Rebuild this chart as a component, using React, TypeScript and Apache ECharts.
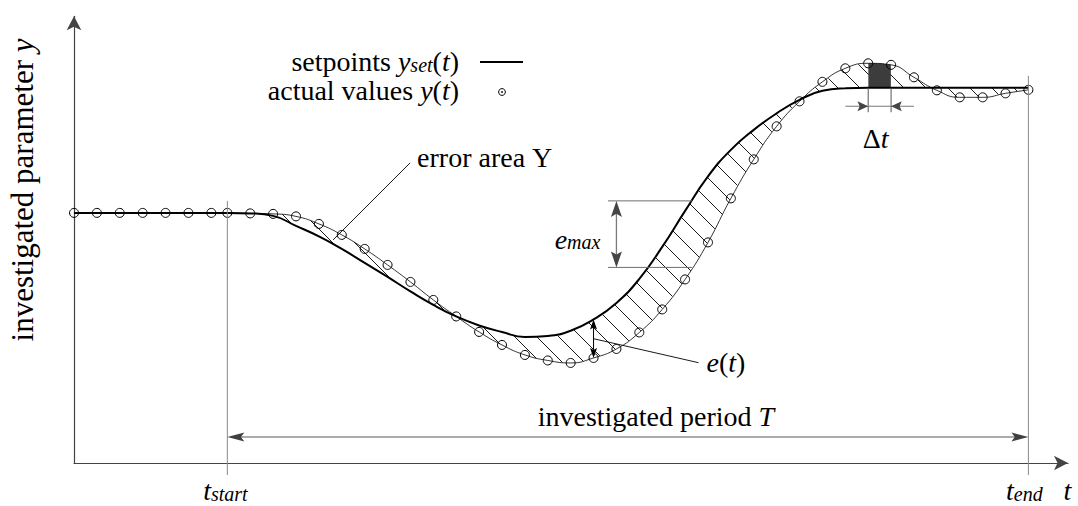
import React, { useEffect, useRef } from 'react';
import * as echarts from 'echarts';

// Sample times: seven samples before t_start, then one sample per time unit from t_start (0) to t_end (35)
const TIME = [
  -6.7, -5.7, -4.7, -3.7, -2.7, -1.7, -0.7,
  0, 1, 2, 3, 4, 5, 6, 7, 8, 9, 10, 11, 12, 13, 14, 15, 16, 17,
  18, 19, 20, 21, 22, 23, 24, 25, 26, 27, 28, 29, 30, 31, 32, 33, 34, 35,
];

// Setpoint trajectory y_set(t)
const SETPOINT = [
  5.0, 5.0, 5.0, 5.0, 5.0, 5.0, 5.0,
  5.0, 4.99, 4.94, 4.74, 4.53, 4.28, 4.0, 3.72, 3.43, 3.16, 2.93, 2.75, 2.62, 2.52, 2.54, 2.645, 2.87, 3.2,
  3.68, 4.32, 5.04, 5.73, 6.26, 6.66, 6.99, 7.26, 7.44, 7.49, 7.5, 7.5, 7.5, 7.5, 7.5, 7.5, 7.5, 7.5,
];

// Measured values y(t)
const ACTUAL = [
  5.0, 5.0, 5.0, 5.0, 5.0, 5.0, 5.0,
  5.0, 4.99, 4.98, 4.93, 4.78, 4.56, 4.28, 3.96, 3.62, 3.26, 2.93, 2.62, 2.36, 2.16, 2.05, 2.0, 2.1, 2.28,
  2.61, 3.07, 3.67, 4.41, 5.29, 6.07, 6.73, 7.23, 7.62, 7.89, 7.99, 7.96, 7.71, 7.45, 7.31, 7.31, 7.39, 7.46,
];

// Axis ranges
const X_MIN = -6.7;
const X_MAX = 36.73;
const Y_MAX = 8.93;

// Annotated instants and levels
const T_START = 0;
const T_END = 35;
const E_T = 16; // sample at which e(t) is marked
const EMAX_T = 20.3;
const EMAX_UPPER = 5.24;
const EMAX_LOWER = 3.91;
const EMAX_ARROW_T = 17;
const EMAX_LINE_FROM_T = 16.63;
const DT_FROM = 28;
const DT_TO = 29;
const PERIOD_LEVEL = 0.52;
const ERROR_AREA_POINT = [4.62, 4.46];

// Style
const SMOOTH = 0.5;
const HATCH_GAP = 22;
const HATCH_PHASE = 2;
const SERIF = 'Liberation Serif';
const TEXT = '#404040';
const MATH = '#22229a';
const AXIS = '#444444';
const FS = 28;
const FS_SUB = 20;
const FS_TITLE = 31;

function richStyles(size: number) {
  return {
    n: { fontFamily: SERIF, fontSize: size, color: TEXT, lineHeight: 26 },
    m: { fontFamily: SERIF, fontSize: size, fontStyle: 'italic', color: MATH, lineHeight: 26 },
    u: { fontFamily: SERIF, fontSize: size, color: MATH, lineHeight: 26 },
    s: {
      fontFamily: SERIF, fontSize: FS_SUB, fontStyle: 'italic', color: MATH,
      lineHeight: 12, verticalAlign: 'bottom',
    },
  };
}
const RICH = richStyles(FS);
const RICH_TITLE = richStyles(FS_TITLE);

// Same smoothing scheme as the line series, evaluated in pixel space
function smoothPoints(pts: number[][], smooth: number, steps = 16): number[][] {
  const out: number[][] = [pts[0].slice()];
  let cpx0 = pts[0][0];
  let cpy0 = pts[0][1];
  for (let i = 1; i < pts.length; i++) {
    const [x, y] = pts[i];
    const [prevX, prevY] = pts[i - 1];
    let cpx1 = x, cpy1 = y, nextCpx0 = x, nextCpy0 = y;
    if (i < pts.length - 1 && smooth > 0) {
      const [nextX, nextY] = pts[i + 1];
      let vx = nextX - prevX;
      let vy = nextY - prevY;
      const lenPrev = Math.hypot(x - prevX, y - prevY);
      const lenNext = Math.hypot(nextX - x, nextY - y);
      const ratio = lenNext / (lenNext + lenPrev);
      nextCpx0 = x + vx * smooth * ratio;
      nextCpy0 = y + vy * smooth * ratio;
      nextCpx0 = Math.max(Math.min(nextCpx0, Math.max(nextX, x)), Math.min(nextX, x));
      nextCpy0 = Math.max(Math.min(nextCpy0, Math.max(nextY, y)), Math.min(nextY, y));
      vx = nextCpx0 - x;
      vy = nextCpy0 - y;
      cpx1 = x - (vx * lenPrev) / lenNext;
      cpy1 = y - (vy * lenPrev) / lenNext;
      cpx1 = Math.max(Math.min(cpx1, Math.max(prevX, x)), Math.min(prevX, x));
      cpy1 = Math.max(Math.min(cpy1, Math.max(prevY, y)), Math.min(prevY, y));
      vx = x - cpx1;
      vy = y - cpy1;
      nextCpx0 = x + (vx * lenNext) / lenPrev;
      nextCpy0 = y + (vy * lenNext) / lenPrev;
    }
    for (let s = 1; s <= steps; s++) {
      const u = s / steps;
      const w = 1 - u;
      out.push([
        w * w * w * prevX + 3 * w * w * u * cpx0 + 3 * w * u * u * cpx1 + u * u * u * x,
        w * w * w * prevY + 3 * w * w * u * cpy0 + 3 * w * u * u * cpy1 + u * u * u * y,
      ]);
    }
    cpx0 = nextCpx0;
    cpy0 = nextCpy0;
  }
  return out;
}

// Reads y at increasing x along a polyline that is monotone in x
function sampler(poly: number[][]) {
  let j = 0;
  return (px: number) => {
    while (j < poly.length - 2 && poly[j + 1][0] < px) j++;
    const a = poly[j];
    const b = poly[j + 1];
    const d = b[0] - a[0] || 1;
    const u = Math.min(1, Math.max(0, (px - a[0]) / d));
    return a[1] + (b[1] - a[1]) * u;
  };
}

function renderErrorArea(params: any, api: any) {
  if (params.dataIndex !== 0) return null;
  const setPts = TIME.map((t, i) => api.coord([t, SETPOINT[i]]));
  const actPts = TIME.map((t, i) => api.coord([t, ACTUAL[i]]));
  const setPoly = smoothPoints(setPts, SMOOTH);
  const actPoly = smoothPoints(actPts, SMOOTH);
  const startIdx = TIME.indexOf(T_START);
  const xStart = setPts[startIdx][0];
  const xEnd = setPts[setPts.length - 1][0];

  const xs: number[] = [];
  const ys: number[] = [];
  const ya: number[] = [];
  const fs = sampler(setPoly);
  const fa = sampler(actPoly);
  let minPy = Infinity;
  let maxPy = -Infinity;
  for (let px = xStart; px <= xEnd; px += 0.5) {
    xs.push(px);
    const a = fs(px);
    const b = fa(px);
    ys.push(a);
    ya.push(b);
    minPy = Math.min(minPy, a, b);
    maxPy = Math.max(maxPy, a, b);
  }

  // Diagonal hatching between the two curves
  const children: any[] = [];
  const cStart = HATCH_PHASE + HATCH_GAP * Math.floor((xStart - maxPy - HATCH_PHASE) / HATCH_GAP);
  const cEnd = xEnd - minPy;
  for (let c = cStart; c <= cEnd; c += HATCH_GAP) {
    let from = -1;
    for (let i = 0; i < xs.length; i++) {
      const py = xs[i] - c;
      const inside = (py - ys[i]) * (py - ya[i]) < 0;
      if (inside && from < 0) from = i;
      if ((!inside || i === xs.length - 1) && from >= 0) {
        const to = inside ? i : i - 1;
        if (to > from) {
          children.push({
            type: 'line',
            shape: { x1: xs[from], y1: xs[from] - c, x2: xs[to], y2: xs[to] - c },
            style: { stroke: '#000', lineWidth: 0.9 },
          });
        }
        from = -1;
      }
    }
  }

  // Filled strip of one sampling interval
  const xa = api.coord([DT_FROM, 0])[0];
  const xb = api.coord([DT_TO, 0])[0];
  const top: number[][] = [];
  const bottom: number[][] = [];
  for (let i = 0; i < xs.length; i++) {
    if (xs[i] >= xa - 0.01 && xs[i] <= xb + 0.01) {
      top.push([xs[i], ya[i]]);
      bottom.push([xs[i], ys[i]]);
    }
  }
  children.push({
    type: 'polygon',
    shape: { points: top.concat(bottom.reverse()) },
    style: { fill: '#3c3c3c' },
  });

  return { type: 'group', children };
}

type ToPx = (t: number, v: number) => number[];

function seg(x1: number, y1: number, x2: number, y2: number, stroke: string, lineWidth: number) {
  return { type: 'line', z: 100, silent: true, shape: { x1, y1, x2, y2 }, style: { stroke, lineWidth } };
}

function head(tip: number[], dir: number[], len: number, half: number, fill: string) {
  const [dx, dy] = dir;
  const nx = -dy;
  const ny = dx;
  const bx = tip[0] - dx * len;
  const by = tip[1] - dy * len;
  const notch = [tip[0] - dx * len * 0.8, tip[1] - dy * len * 0.8];
  return {
    type: 'polygon', z: 101, silent: true,
    shape: { points: [tip, [bx + nx * half, by + ny * half], notch, [bx - nx * half, by - ny * half]] },
    style: { fill },
  };
}

function label(x: number, y: number, text: string, align: string, rotation = 0, rich: any = RICH) {
  return {
    type: 'text', z: 102, silent: true, x, y, rotation,
    style: { text, rich, align, verticalAlign: 'middle' },
  };
}

function buildAnnotations(P: ToPx): any[] {
  const els: any[] = [];
  const axisY = P(0, 0)[1];
  const idxStart = TIME.indexOf(T_START);
  const idxEnd = TIME.indexOf(T_END);

  // t_start / t_end markers
  const ps = P(T_START, SETPOINT[idxStart]);
  const pe = P(T_END, SETPOINT[idxEnd]);
  els.push(seg(ps[0], ps[1] - 12, ps[0], axisY + 12, '#8a8a8a', 1));
  els.push(seg(pe[0], pe[1] - 12, pe[0], axisY + 12, '#8a8a8a', 1));

  // investigated period T
  const yP = P(0, PERIOD_LEVEL)[1];
  els.push(seg(ps[0] + 8, yP, pe[0] - 8, yP, '#8f8f8f', 1.4));
  els.push(head([ps[0], yP], [-1, 0], 17, 4.5, '#404040'));
  els.push(head([pe[0], yP], [1, 0], 17, 4.5, '#404040'));
  els.push(label((ps[0] + pe[0]) / 2 + 28, yP - 20.5, '{n|investigated period }{m|T}', 'center'));

  // e_max dimension
  const xArrow = P(EMAX_ARROW_T, 0)[0];
  const xFrom = P(EMAX_LINE_FROM_T, 0)[0];
  const xTo = P(EMAX_T, 0)[0];
  const yU = P(0, EMAX_UPPER)[1];
  const yL = P(0, EMAX_LOWER)[1];
  els.push(seg(xFrom, yU, xTo, yU, '#6e6e6e', 1));
  els.push(seg(xFrom, yL, xTo, yL, '#6e6e6e', 1));
  els.push(seg(xArrow, yU + 8, xArrow, yL - 8, '#7a7a7a', 1.3));
  els.push(head([xArrow, yU], [0, -1], 16, 5.5, '#454545'));
  els.push(head([xArrow, yL], [0, 1], 16, 5.5, '#454545'));
  els.push(label(xArrow - 16, (yU + yL) / 2 + 5, '{m|e}{s|max}', 'right'));

  // e(t) at one sample
  const iE = TIME.indexOf(E_T);
  const pS = P(E_T, SETPOINT[iE]);
  const pA = P(E_T, ACTUAL[iE]);
  const yMid = (pS[1] + pA[1]) / 2;
  els.push(seg(pS[0], pS[1] + 5, pS[0], pA[1] - 5, '#000', 1));
  els.push(head([pS[0], pS[1]], [0, -1], 10, 3.5, '#000'));
  els.push(head([pA[0], pA[1]], [0, 1], 10, 3.5, '#000'));
  els.push(seg(pS[0], yMid, pS[0] + 105, yMid + 24, '#000', 0.9));
  els.push(label(pS[0] + 113, yMid + 24, '{m|e}{n|(}{m|t}{n|)}', 'left'));

  // error area leader
  const pErr = P(ERROR_AREA_POINT[0], ERROR_AREA_POINT[1]);
  els.push(seg(pErr[0], pErr[1], pErr[0] + 77, pErr[1] - 77, '#000', 0.9));
  els.push(label(pErr[0] + 84, pErr[1] - 82, '{n|error area }{u|Υ}', 'left'));

  // sampling interval Δt
  const iA = TIME.indexOf(DT_FROM);
  const pL = P(DT_FROM, SETPOINT[iA]);
  const pR = P(DT_TO, SETPOINT[iA + 1]);
  const yDim = pL[1] + 18.4;
  els.push(seg(pL[0], pL[1], pL[0], pL[1] + 24.4, '#555', 1));
  els.push(seg(pR[0], pR[1], pR[0], pR[1] + 24.4, '#555', 1));
  els.push(seg(P(DT_FROM - 1, 0)[0], yDim, P(DT_TO + 1, 0)[0], yDim, '#7a7a7a', 1.2));
  els.push(head([pL[0], yDim], [1, 0], 10.7, 5, '#454545'));
  els.push(head([pR[0], yDim], [-1, 0], 10.7, 5, '#454545'));
  els.push(label((pL[0] + pR[0]) / 2 - 4, yDim + 32.5, '{n|Δ}{m|t}', 'center'));

  // time labels
  els.push(label(ps[0] - 2, axisY + 27.5, '{m|t}{s|start}', 'center'));
  els.push(label(pe[0] - 4, axisY + 27.5, '{m|t}{s|end}', 'center'));
  els.push(label(1067.5, axisY + 27.5, '{m|t}', 'center'));

  // y axis title
  els.push(label(22, 190, '{n|investigated parameter }{m|y}', 'center', Math.PI / 2, RICH_TITLE));

  // legend
  els.push(label(459, 61.5, '{n|setpoints }{m|y}{s|set}{n|(}{m|t}{n|)}', 'right'));
  els.push(label(459, 90.5, '{n|actual values }{m|y}{n|(}{m|t}{n|)}', 'right'));
  els.push(seg(480, 62, 523, 62, '#000', 2));
  els.push({
    type: 'circle', z: 100, silent: true,
    shape: { cx: 502, cy: 92, r: 3.4 }, style: { fill: 'none', stroke: '#000', lineWidth: 1 },
  });
  els.push({
    type: 'circle', z: 100, silent: true,
    shape: { cx: 502, cy: 92, r: 0.9 }, style: { fill: '#000' },
  });
  return els;
}

function buildOption() {
  const axisCommon = {
    type: 'value',
    axisTick: { show: false },
    axisLabel: { show: false },
    splitLine: { show: false },
  };
  return {
    animation: false,
    backgroundColor: '#ffffff',
    grid: { left: 74, right: 10, top: 16.3, bottom: 43, outerBoundsMode: 'none' },
    xAxis: {
      ...axisCommon,
      min: X_MIN,
      max: X_MAX,
      axisLine: {
        show: true, onZero: false, symbol: ['none', 'arrow'], symbolSize: [11, 14],
        lineStyle: { color: AXIS, width: 1.2 },
      },
    },
    yAxis: {
      ...axisCommon,
      min: 0,
      max: Y_MAX,
      axisLine: {
        show: true, onZero: false, symbol: ['none', 'arrow'], symbolSize: [11, 14],
        lineStyle: { color: AXIS, width: 1.2 },
      },
    },
    series: [
      {
        type: 'custom',
        name: 'error area',
        silent: true,
        clip: false,
        data: [[T_START, 0]],
        renderItem: renderErrorArea,
        z: 1,
      },
      {
        type: 'line',
        name: 'setpoints',
        silent: true,
        data: TIME.map((t, i) => [t, SETPOINT[i]]),
        smooth: SMOOTH,
        symbol: 'none',
        lineStyle: { color: '#000', width: 2 },
        z: 3,
      },
      {
        type: 'line',
        name: 'actual values',
        silent: true,
        data: TIME.map((t, i) => [t, ACTUAL[i]]),
        smooth: SMOOTH,
        symbol: 'circle',
        symbolSize: 9,
        showAllSymbol: true,
        itemStyle: { color: 'rgba(255,255,255,0)', borderColor: '#000', borderWidth: 1 },
        lineStyle: { color: '#000', width: 0.8 },
        z: 4,
      },
    ],
  };
}

export default function App() {
  const ref = useRef<HTMLDivElement>(null);
  useEffect(() => {
    const chart = echarts.init(ref.current as HTMLDivElement, null, { renderer: 'svg' });
    chart.setOption(buildOption() as any);
    const toPx: ToPx = (t, v) => chart.convertToPixel({ gridIndex: 0 }, [t, v]) as number[];
    chart.setOption({ graphic: { elements: buildAnnotations(toPx) } } as any);
    return () => chart.dispose();
  }, []);
  return (
    <div
      ref={ref}
      style={{ position: 'fixed', left: 0, top: 0, width: 1078, height: 506, background: '#fff' }}
    />
  );
}
